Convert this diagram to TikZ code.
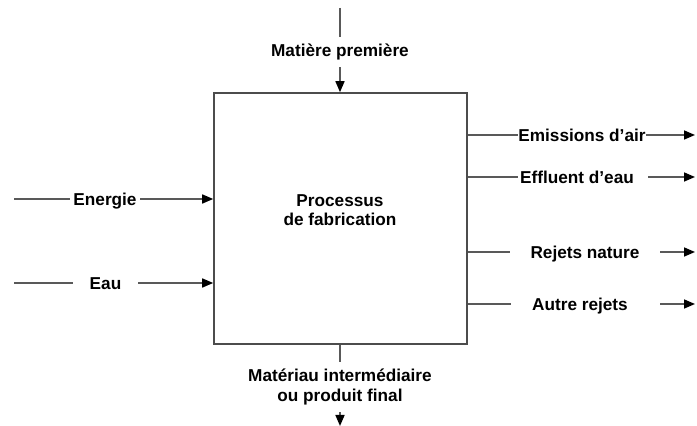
\documentclass[tikz,border=0pt]{standalone}
\usepackage{fontspec}
\setmainfont{Liberation Sans}
\usetikzlibrary{arrows.meta}

\begin{document}
\begin{tikzpicture}[x=0.5pt, y=-0.5pt,
    procbox/.style={draw=black!70, line width=0.8pt, minimum width=126.5pt, minimum height=125.5pt, inner sep=0pt},
    lbl/.style={inner sep=0pt, font=\bfseries\fontsize{8.6}{9.8}\selectfont},
    slbl/.style={lbl, text height=6.2pt, text depth=0pt},
    line/.style={draw=black!65, line width=0.8pt},
    arr/.style={line, -{Triangle[length=5.5pt, width=4.5pt, color=black]}}]
    \useasboundingbox (0,0) rectangle (697,426);

    \node[procbox] (proc) at (340.5,218.5) {};
    \node[lbl, align=center] (proctxt) at (340,210) {Processus\\de fabrication};

    % haut et bas
    \coordinate (mat-in) at (340,8);
    \node[lbl, minimum height=15pt] (mat) at (340,52) {Matière première};
    \node[lbl, align=center, minimum height=25pt] (prod) at (340,387) {Matériau intermédiaire\\ou produit final};
    \coordinate (prod-out) at (340,426);

    \draw[line] (mat-in) -- (mat);
    \draw[arr] (mat) -- (mat |- proc.north);
    \draw[line] (prod |- proc.south) -- (prod);
    \draw[arr] (prod) -- (prod-out);

    % entrees gauche
    \coordinate (eng-in) at (14,199);
    \coordinate (eau-in) at (14,283);
    \node[slbl, minimum width=35pt] (eng) at (105,199) {Energie};
    \node[slbl, minimum width=32.5pt] (eau) at (105.5,283) {Eau};

    \draw[line] (eng-in) -- (eng);
    \draw[arr] (eng) -- (proc.west |- eng);
    \draw[line] (eau-in) -- (eau);
    \draw[arr] (eau) -- (proc.west |- eau);

    % sorties droite
    \node[slbl, minimum width=63pt] (emi) at (582,135) {Emissions d’air};
    \node[slbl, minimum width=59pt] (eff) at (577,177) {Effluent d’eau};
    \node[slbl, minimum width=75pt] (rej) at (585,252) {Rejets nature};
    \node[slbl, minimum width=69pt] (aut) at (580,304) {Autre rejets};
    \coordinate (emi-out) at (695,135);
    \coordinate (eff-out) at (695,177);
    \coordinate (rej-out) at (695,252);
    \coordinate (aut-out) at (695,304);

    \draw[line] (proc.east |- emi) -- (emi);
    \draw[arr] (emi) -- (emi-out);
    \draw[line] (proc.east |- eff) -- (eff);
    \draw[arr, shorten <=6pt] (eff) -- (eff-out);
    \draw[line] (proc.east |- rej) -- (rej);
    \draw[arr] (rej) -- (rej-out);
    \draw[line] (proc.east |- aut) -- (aut);
    \draw[arr, shorten <=5.5pt] (aut) -- (aut-out);
\end{tikzpicture}
\end{document}
